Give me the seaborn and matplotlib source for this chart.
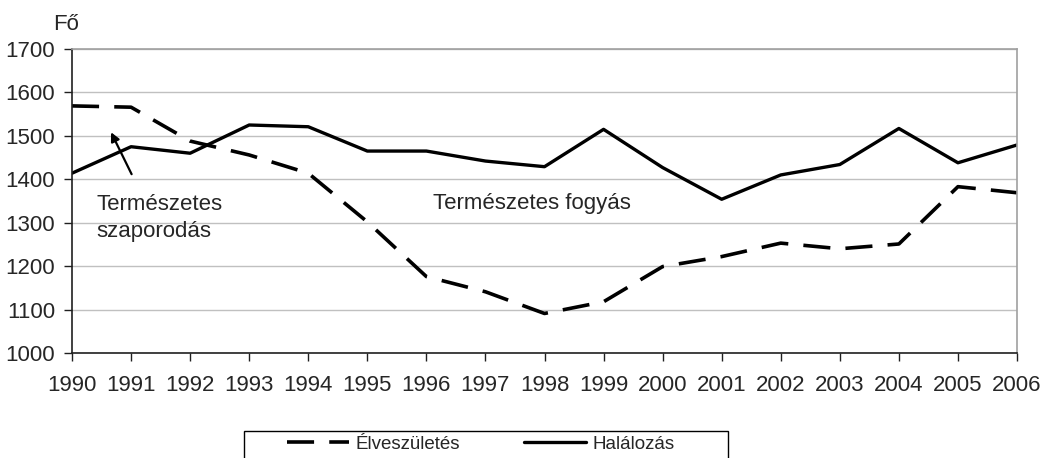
import matplotlib
matplotlib.use("Agg")
import matplotlib.pyplot as plt
from matplotlib.patches import Rectangle
import seaborn as sns
import pandas as pd

years = list(range(1990, 2007))
births = [1569, 1566, 1488, 1456, 1414, 1302, 1176, 1141, 1091, 1118, 1199, 1222, 1253, 1240, 1251, 1383, 1369]
deaths = [1414, 1475, 1460, 1525, 1521, 1465, 1465, 1442, 1429, 1515, 1427, 1354, 1410, 1434, 1517, 1438, 1479]
series_names = ["Élveszületés", "Halálozás"]
y_ticks = [1000, 1100, 1200, 1300, 1400, 1500, 1600, 1700]

sns.set_style("white")
plt.rcParams['font.family'] = ['Liberation Sans', 'DejaVu Sans']

FS = 16
LFS = 13.5
DASH = (7.5, 4.2)

fig = plt.figure(figsize=(10.42, 4.58), dpi=100)
ax = fig.add_axes([72/1042, 1-353/458, (1017-72)/1042, (353-49)/458])

df_b = pd.DataFrame({"year": years, "value": births})
df_d = pd.DataFrame({"year": years, "value": deaths})

sns.lineplot(data=df_b, x="year", y="value", ax=ax, color="black", lw=2.6,
             label=series_names[0])
sns.lineplot(data=df_d, x="year", y="value", ax=ax, color="black", lw=2.4,
             label=series_names[1])
ax.lines[0].set_dashes(DASH)
ax.lines[0].set_dash_capstyle("butt")

ax.set_xlim(years[0], years[-1])
ax.set_ylim(y_ticks[0], y_ticks[-1])
ax.set_xticks(years)
ax.set_yticks(y_ticks)
ax.set_xticklabels([str(y) for y in years])
ax.set_xlabel("")
ax.set_ylabel("")
ax.yaxis.grid(True, color="#c0c0c0", lw=1)
ax.set_axisbelow(True)
ax.tick_params(axis="both", labelsize=FS, length=6, width=1, color="#202020",
               direction="out", bottom=True, left=True)
ax.tick_params(axis="x", pad=10)
ax.tick_params(axis="y", pad=6)
for side in ["top", "right"]:
    ax.spines[side].set_color("#a0a0a0")
    ax.spines[side].set_linewidth(1.2)
for side in ["left", "bottom"]:
    ax.spines[side].set_color("#202020")
    ax.spines[side].set_linewidth(1.2)

fig.text(53/1042, 1-25/458, "Fő", fontsize=FS, va="center", ha="left")

ax.annotate("", xy=(1990.64, 1514), xytext=(1991.03, 1406),
            arrowprops=dict(arrowstyle="-|>", color="black", lw=1.6, mutation_scale=13))
ax.text(1990.42, 1311, "Természetes\nszaporodás", fontsize=FS, va="center", ha="left",
        linespacing=1.4)
ax.text(1996.11, 1345, "Természetes fogyás", fontsize=FS, va="center", ha="left")

ax.get_legend().remove()
h, l = ax.get_legend_handles_labels()
leg = fig.legend(h, l, loc="center left", bbox_to_anchor=(287/1042, 1-444/458),
                 ncol=2, fontsize=LFS, frameon=False, handlelength=3.3,
                 handletextpad=0.37, columnspacing=3.4, borderpad=0, borderaxespad=0)
leg.get_lines()[0].set_dashes(DASH)
leg.get_lines()[0].set_dash_capstyle("butt")
fig.patches.append(Rectangle((244/1042, -0.05), (728-244)/1042, 0.05 + 1-431/458,
                             transform=fig.transFigure, fill=False,
                             edgecolor="black", lw=1.0))

fig.savefig("out.png", dpi=100)
